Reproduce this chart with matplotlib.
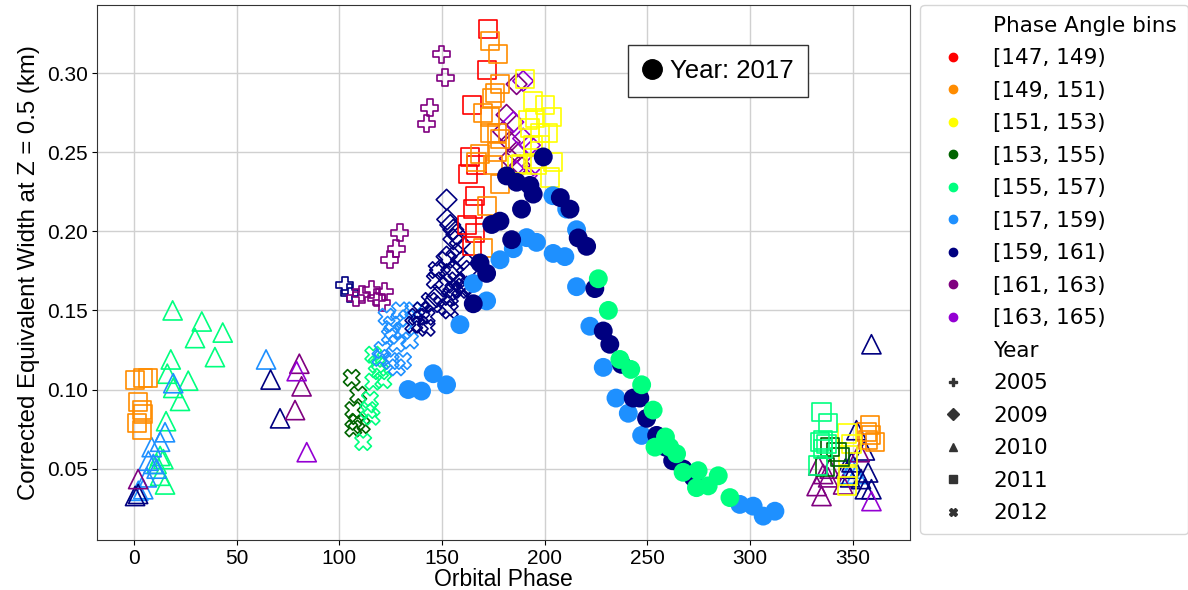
import matplotlib
matplotlib.use("Agg")
import matplotlib.pyplot as plt
from matplotlib.lines import Line2D

# phase-angle bins, index into these
bin_labels = ["[147, 149)", "[149, 151)", "[151, 153)", "[153, 155)", "[155, 157)",
              "[157, 159)", "[159, 161)", "[161, 163)", "[163, 165)"]
bin_colors = ["#ff0000", "#ff8c00", "#ffff00", "#006400", "#00ff7f",
              "#1e90ff", "#000080", "#800080", "#9400d3"]

years = [2005, 2009, 2010, 2011, 2012]
year_markers = {2005: "P", 2009: "D", 2010: "^", 2011: "s", 2012: "X", 2017: "o"}
year_sizes = {2005: 150, 2009: 110, 2010: 190, 2011: 170, 2012: 140, 2017: 185}

# ---- 2005 ----
phase_2005 = [102.7, 105, 108, 111, 115.7, 118, 122, 120.6, 124.6, 127.6, 129.5, 142.5, 144, 149.8, 151.5]
width_2005 = [0.166, 0.161, 0.158, 0.160, 0.163, 0.158, 0.162, 0.155, 0.182, 0.189, 0.199, 0.268, 0.278, 0.312, 0.297]
bin_2005 = [6, 6, 7, 7, 7, 7, 7, 7, 7, 7, 7, 7, 7, 7, 7]

# ---- 2009 ----
phase_2009 = [152.2, 152.5, 154, 155.5, 157, 155.5, 158.7, 152.2, 149, 155.5, 158.7, 162, 155.5, 150.6,
              160.3, 162, 147.4, 153.8, 157,
              186.3, 181.4, 179.8, 183, 183, 186.3, 188,
              189.5, 184.7, 189.5, 192.8, 191.2, 194.4, 186]
width_2009 = [0.220, 0.2075, 0.204, 0.201, 0.198, 0.195, 0.1925, 0.184, 0.1755, 0.176, 0.167, 0.165, 0.163, 0.165,
              0.182, 0.175, 0.1585, 0.173, 0.186,
              0.293, 0.2736, 0.263, 0.2565, 0.246, 0.250, 0.2417,
              0.295, 0.269, 0.2586, 0.2544, 0.2353, 0.2417, 0.238]
bin_2009 = [6] * 19 + [7] * 7 + [8] * 7

# ---- 2010 ----
phase_2010 = [18.8, 33, 29.7, 43.2, 39.4, 17.9, 16.2, 26.4, 19.1, 22.4, 15.6, 12.7, 14.3, 12.7, 15.1, 11,
              19.1, 15.1, 12.7, 8.6, 7, 9.4, 11, 6.2, 4.5, 2.1, 64.3, 349.7, 351.8, 347.8,
              0.5, 2, 66.5, 71.1, 359.1, 351.8, 355.9, 357.5, 355.9, 359.1, 346.4, 349.4, 348.7, 354,
              2, 80.5, 81.6, 78.4, 333.2, 335.6, 332.4, 334.8, 338, 338.8, 345.3, 353.4,
              79.2, 84.1, 359.1]
width_2010 = [0.150, 0.143, 0.1325, 0.136, 0.1205, 0.119, 0.110, 0.1056, 0.101, 0.0928, 0.080, 0.058, 0.056, 0.0455, 0.040, 0.053,
              0.104, 0.073, 0.067, 0.0636, 0.055, 0.053, 0.050, 0.0445, 0.037, 0.036, 0.119, 0.050, 0.0466, 0.0466,
              0.0327, 0.034, 0.1063, 0.0818, 0.1286, 0.0743, 0.0615, 0.0476, 0.037, 0.037, 0.050, 0.054, 0.0445, 0.0434,
              0.0434, 0.1163, 0.102, 0.087, 0.052, 0.0466, 0.039, 0.0327, 0.0445, 0.050, 0.040, 0.0604,
              0.1116, 0.0604, 0.0295]
bin_2010 = [4] * 16 + [5] * 14 + [6] * 14 + [7] * 12 + [8] * 3

# ---- 2011 ----
phase_2011 = [172.5, 171.7, 164.4, 163.6, 162.7, 166.8, 166, 165.2, 162, 166, 164.4,
              0.5, 4.4, 6.8, 1.9, 3.9, 4.5, 1.5, 3.9,
              173.3, 177.4, 178.2, 175.8, 174.2, 170, 173.3, 173.3, 176.6, 168.5, 176.6, 174.9, 178.2,
              171.7, 170, 178.2, 166.8, 358.3, 359.1, 360.8, 356.7, 357.5,
              190.4, 194.4, 200.1, 203.4, 195.2, 192, 201.7, 197.7, 194.4, 197.7, 188.7, 196, 204.1,
              202.5, 186.3, 194.4, 192.8, 347, 349.4, 347.8, 347, 347.8,
              338.8, 343.7, 336.4, 342.1,
              334.8, 338, 335.6, 337.2, 334.2, 333.2, 335.6]
width_2011 = [0.328, 0.302, 0.280, 0.247, 0.236, 0.2417, 0.2225, 0.214, 0.204, 0.199, 0.1905,
              0.106, 0.1075, 0.1075, 0.092, 0.087, 0.0845, 0.079, 0.0743,
              0.320, 0.312, 0.293, 0.2874, 0.284, 0.2746, 0.2725, 0.262, 0.262, 0.249, 0.250, 0.2417, 0.230,
              0.216, 0.1894, 0.2586, 0.2437, 0.0775, 0.071, 0.0668, 0.0732, 0.068,
              0.296, 0.282, 0.280, 0.2725, 0.2714, 0.2704, 0.262, 0.262, 0.2544, 0.2544, 0.2427, 0.2417, 0.2437,
              0.234, 0.2417, 0.246, 0.265, 0.0722, 0.0658, 0.0583, 0.039, 0.0455,
              0.0636, 0.0572, 0.0508, 0.0604,
              0.086, 0.0786, 0.068, 0.0658, 0.0668, 0.052, 0.0626]
bin_2011 = [0] * 11 + [1] * 30 + [2] * 22 + [3] * 4 + [4] * 7

# ---- 2012 ----
phase_2012 = [106, 109.2, 106.8, 108.4, 110.9, 106.8,
              116.5, 118.2, 116.5, 114.9, 114, 115.7, 111.6, 119.8, 121.4,
              123, 126, 125, 128, 129.5, 125.5, 131, 134.4, 124.6, 128, 121, 133, 136, 131, 120,
              144, 142.5, 139.2, 137.6, 147.4, 146.5, 152.2, 157, 158.7, 153.8, 152.2, 153.8, 142.5,
              136, 155.5, 160.3, 145.6, 140]
width_2012 = [0.1074, 0.0967, 0.087, 0.0796, 0.0775, 0.0754,
              0.122, 0.1159, 0.105, 0.0935, 0.087, 0.0828, 0.0668, 0.1116, 0.106,
              0.146, 0.137, 0.118, 0.114, 0.150, 0.141, 0.137, 0.131, 0.134, 0.129, 0.125, 0.145, 0.150, 0.118, 0.120,
              0.156, 0.146, 0.141, 0.146, 0.1755, 0.169, 0.182, 0.169, 0.163, 0.1585, 0.152, 0.150, 0.139,
              0.141, 0.163, 0.165, 0.154, 0.150]
bin_2012 = [3] * 6 + [4] * 9 + [5] * 15 + [6] * 18

# ---- 2017 (filled) ----
phase_2017 = [133.5, 140, 145.7, 152.2, 158.7, 171.7, 165.2, 178.2, 184.7, 191.2, 196, 204.1, 209.8,
              215.5, 222, 215.5, 204, 210.7, 228.5, 234.7, 240.7, 247.2, 295, 301.5, 306.4, 312.1,
              165.2, 168.5, 171.7, 174.2, 178.2, 183.9, 188.7, 194.4, 192.8, 186.3, 181.4, 199.3, 207.6,
              212.3, 216.3, 220.4, 224.4, 228.5, 231.7, 237.4, 243.1, 246.3, 249.6, 254.5, 258.8, 262.3,
              267.4, 272.3,
              226.1, 231, 236.6, 241.9, 247.2, 252.8, 253.7, 258.8, 260.9, 264.2, 267.4, 274.7, 273.9,
              279.6, 284.5, 290.2]
width_2017 = [0.100, 0.099, 0.110, 0.103, 0.141, 0.156, 0.167, 0.182, 0.189, 0.196, 0.193, 0.186, 0.184,
              0.165, 0.140, 0.201, 0.2225, 0.214, 0.114, 0.0946, 0.085, 0.071, 0.0274, 0.0263, 0.020, 0.0231,
              0.1542, 0.180, 0.1734, 0.2043, 0.2064, 0.1947, 0.214, 0.2235, 0.229, 0.231, 0.235, 0.247, 0.2213,
              0.214, 0.1958, 0.1905, 0.1638, 0.137, 0.1286, 0.1159, 0.0946, 0.0946, 0.0818, 0.071, 0.0636, 0.055,
              0.0498, 0.0445,
              0.170, 0.150, 0.119, 0.1127, 0.103, 0.087, 0.0636, 0.070, 0.0636, 0.0594, 0.0477, 0.0487, 0.038,
              0.0391, 0.0455, 0.0317]
bin_2017 = [5] * 26 + [6] * 28 + [4] * 16

hollow = {2005: (phase_2005, width_2005, bin_2005),
          2009: (phase_2009, width_2009, bin_2009),
          2010: (phase_2010, width_2010, bin_2010),
          2011: (phase_2011, width_2011, bin_2011),
          2012: (phase_2012, width_2012, bin_2012)}

plt.rcParams["font.family"] = ["Liberation Sans", "DejaVu Sans"]

fig = plt.figure(figsize=(11.88, 5.9), dpi=100)
ax = fig.add_axes([0.0817, 0.085, 0.6845, 0.9065])

for yr, (ph, wd, bn) in hollow.items():
    ax.scatter(ph, wd, s=year_sizes[yr], marker=year_markers[yr], facecolors="none",
               edgecolors=[bin_colors[b] for b in bn], linewidths=1.2, zorder=3)

ax.scatter(phase_2017, width_2017, s=year_sizes[2017], marker="o",
           c=[bin_colors[b] for b in bin_2017], edgecolors="none", zorder=4)

ax.set_xlim(-18, 378)
ax.set_ylim(0.005, 0.343)
ax.set_xticks([0, 50, 100, 150, 200, 250, 300, 350])
ax.set_yticks([0.05, 0.10, 0.15, 0.20, 0.25, 0.30])
ax.grid(True, color="#d0d0d0", linewidth=1.0, zorder=0)
ax.set_axisbelow(True)
ax.tick_params(labelsize=15, pad=3)
ax.set_xlabel("Orbital Phase", fontsize=16.5, labelpad=0)
ax.set_ylabel("Corrected Equivalent Width at Z = 0.5 (km)", fontsize=17.3, labelpad=5)
for sp in ax.spines.values():
    sp.set_color("#333333")

# main legend: bins by colour, then years by marker
blank = Line2D([], [], linestyle="none", marker="none")
handles = [blank]
labels = ["Phase Angle bins"]
for lab, col in zip(bin_labels, bin_colors):
    handles.append(Line2D([], [], linestyle="none", marker="o", markersize=6,
                          markerfacecolor=col, markeredgecolor=col))
    labels.append(lab)
handles.append(blank)
labels.append("Year")
for yr in years:
    handles.append(Line2D([], [], linestyle="none", marker=year_markers[yr], markersize=6,
                          markerfacecolor="#333333", markeredgecolor="#333333"))
    labels.append(str(yr))
leg = ax.legend(handles, labels, loc="upper left", bbox_to_anchor=(1.0123, 1.0),
                borderaxespad=0, labelspacing=0.58, handletextpad=0.9, borderpad=0.5,
                prop={"family": "DejaVu Sans", "size": 15.5})
ax.add_artist(leg)

# 2017 box
h17 = Line2D([], [], linestyle="none", marker="o", markersize=14, color="black")
leg2 = ax.legend([h17], ["Year: 2017"], loc="upper left", bbox_to_anchor=(0.653, 0.925),
                 borderaxespad=0, fancybox=False, framealpha=1, edgecolor="#333333",
                 fontsize=18.5, handlelength=0.8, handletextpad=0.3, borderpad=0.55)

fig.savefig("out.png", dpi=100)
